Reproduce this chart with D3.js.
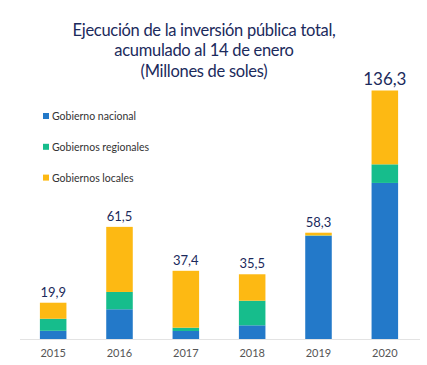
<!DOCTYPE html>
<html><head><meta charset="utf-8">
<script src="https://cdn.jsdelivr.net/npm/d3@7"></script>
<style>body{margin:0;background:#fff}svg{display:block}</style>
</head><body>
<script>
const years = ["2015","2016","2017","2018","2019","2020"];
const nacional = [4.5, 16.3, 4.4, 7.5, 56.6, 85.6];
const regionales = [6.6, 9.5, 1.8, 13.5, 0.2, 10.2];
const locales = [8.8, 35.7, 31.2, 14.5, 1.5, 40.5];
const totals = [19.9, 61.5, 37.4, 35.5, 58.3, 136.3];
const totalLabels = ["19,9","61,5","37,4","35,5","58,3","136,3"];
const seriesNames = ["Gobierno nacional","Gobiernos regionales","Gobiernos locales"];
const colors = ["#2379c9","#16bd8c","#fdb913"];
const titleLines = ["Ejecución de la inversión pública total,","acumulado al 14 de enero","(Millones de soles)"];

const W = 427, H = 365;
const FONT = "Lato, 'Open Sans', sans-serif";
const svg = d3.select("body").append("svg").attr("width", W).attr("height", H);

const rows = years.map((y,i)=>({year:y, nacional:nacional[i], regionales:regionales[i], locales:locales[i]}));
const stack = d3.stack().keys(["nacional","regionales","locales"])(rows);

const x = d3.scaleBand().domain(years).range([20,418]).paddingInner(0.6).paddingOuter(0.3);
const y = d3.scaleLinear().domain([0,136.3]).range([339,90.5]);

stack.forEach((s,k)=>{
  svg.append("g").attr("fill", colors[k]).selectAll("rect").data(s).join("rect")
    .attr("x", (d,i)=>x(years[i]))
    .attr("width", x.bandwidth())
    .attr("y", d=>y(d[1]))
    .attr("height", d=>y(d[0])-y(d[1]));
});

// baseline axis
const ax = svg.append("g").attr("transform","translate(0,339)")
  .call(d3.axisBottom(x).tickSize(0).tickPadding(10));
ax.select(".domain").attr("stroke","#e3e3e3").attr("d","M20,0.5H420");
ax.selectAll("text").attr("font-family",FONT).attr("font-size",11).attr("fill","#555");

// value labels
svg.append("g").selectAll("text").data(totals).join("text")
  .attr("x",(d,i)=>x(years[i])+x.bandwidth()/2)
  .attr("y",d=>y(d)-6)
  .attr("text-anchor","middle")
  .attr("font-family",FONT)
  .attr("font-size",(d,i)=>i===5?17:13)
  .attr("fill","#1b2a5c")
  .text((d,i)=>totalLabels[i]);

// title
svg.append("g").selectAll("text").data(titleLines).join("text")
  .attr("x",204).attr("y",(d,i)=>36+i*20.3)
  .attr("text-anchor","middle")
  .attr("font-family",FONT)
  .attr("font-size",16.5)
  .attr("letter-spacing",-0.3)
  .attr("fill","#1b2a5c")
  .text(d=>d);

// legend
const lg = svg.append("g").selectAll("g").data(seriesNames).join("g")
  .attr("transform",(d,i)=>`translate(43,${116+i*30.8})`);
lg.append("rect").attr("x",0).attr("y",-3).attr("width",6).attr("height",6).attr("fill",(d,i)=>colors[i]);
lg.append("text").attr("x",9).attr("y",4)
  .attr("font-family",FONT).attr("font-size",10.5).attr("fill","#333").text(d=>d);
</script>
</body></html>
